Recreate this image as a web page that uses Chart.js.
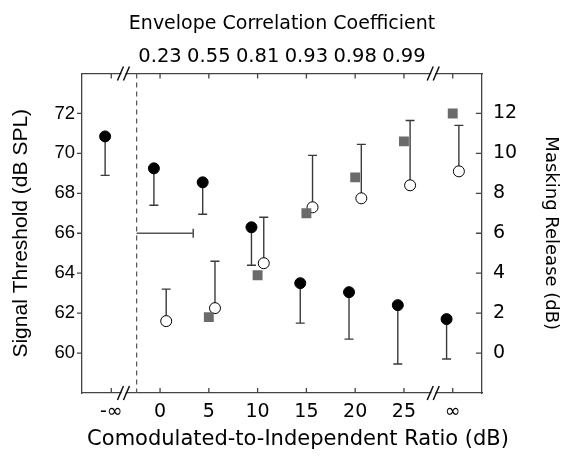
<!DOCTYPE html>
<html>
<head>
<meta charset="utf-8">
<script src="https://cdn.jsdelivr.net/npm/chart.js@4"></script>
<style>
  body { margin: 0; background: #fff; }
  #wrap { width: 561px; height: 457px; }
</style>
</head>
<body>
<div id="wrap"><canvas id="chart"></canvas></div>
<script>
// x positions (dB); -inf and inf are drawn at -5 and 30
const xTicks = [-5, 0, 5, 10, 15, 20, 25, 30];
const xLabels = ['-∞', '0', '5', '10', '15', '20', '25', '∞'];
const corrLabels = ['', '0.23', '0.55', '0.81', '0.93', '0.98', '0.99', ''];

// signal threshold (dB SPL), black dots, bars go down
const thresholdPos = [-5, 0, 5, 10, 15, 20, 25, 30];
const threshold = [70.85, 69.25, 68.55, 66.3, 63.5, 63.05, 62.4, 61.7];
const thresholdLow = [68.9, 67.4, 66.95, 64.4, 61.5, 60.7, 59.45, 59.7];

// masking release (dB), open dots, bars go up
const releasePos = [0, 5, 10, 15, 20, 25, 30];
const release = [1.6, 2.25, 4.5, 7.3, 7.75, 8.4, 9.1];
const releaseHigh = [3.2, 4.6, 6.8, 9.9, 10.45, 11.65, 11.4];

// grey squares
const squarePos = [5, 10, 15, 20, 25, 30];
const squares = [1.8, 3.9, 7.0, 8.8, 10.6, 12.0];

// reference bar at 66 dB SPL, and the dashed line
const refLevel = 66;
const refSpan = [-2.4, 3.4];
const dashX = -2.4;
const breakX = [-3.75, 28];

const xTitle = 'Comodulated-to-Independent Ratio (dB)';

const shift = 0.63;   // dots sit either side of their tick
const axisColor = '#444';

const extras = {
  id: 'extras',
  beforeDatasetsDraw(chart) {
    const { ctx, chartArea: a, scales: { x, y, y2 } } = chart;
    ctx.save();
    // dashed line
    ctx.strokeStyle = '#555';
    ctx.lineWidth = 1.2;
    ctx.setLineDash([5, 4]);
    const dx = x.getPixelForValue(dashX);
    ctx.beginPath();
    ctx.moveTo(dx, a.top);
    ctx.lineTo(dx, a.bottom);
    ctx.stroke();
    ctx.setLineDash([]);

    // error bars
    ctx.strokeStyle = '#3a3a3a';
    ctx.lineWidth = 1.4;
    const bar = (xv, v0, v1, sc) => {
      const px = x.getPixelForValue(xv);
      const p0 = sc.getPixelForValue(v0), p1 = sc.getPixelForValue(v1);
      ctx.beginPath();
      ctx.moveTo(px, p0); ctx.lineTo(px, p1);
      ctx.moveTo(px - 4.5, p1); ctx.lineTo(px + 4.5, p1);
      ctx.stroke();
    };
    thresholdPos.forEach((r, i) => bar(r - shift, threshold[i], thresholdLow[i], y));
    releasePos.forEach((r, i) => bar(r + shift, release[i], releaseHigh[i], y2));

    // horizontal reference bar
    ctx.strokeStyle = '#555';
    ctx.lineWidth = 1.6;
    const ry = y.getPixelForValue(refLevel);
    const r0 = x.getPixelForValue(refSpan[0]), r1 = x.getPixelForValue(refSpan[1]);
    ctx.beginPath();
    ctx.moveTo(r0, ry); ctx.lineTo(r1, ry);
    ctx.moveTo(r1, ry - 4.5); ctx.lineTo(r1, ry + 4.5);
    ctx.stroke();

    // tick marks
    ctx.strokeStyle = axisColor;
    ctx.lineWidth = 1.3;
    ctx.beginPath();
    x.ticks.forEach(t => {
      const px = x.getPixelForValue(t.value);
      ctx.moveTo(px, a.bottom); ctx.lineTo(px, a.bottom - 5);
      ctx.moveTo(px, a.top); ctx.lineTo(px, a.top + 5);
    });
    y.ticks.forEach(t => {
      const py = y.getPixelForValue(t.value);
      ctx.moveTo(a.left, py); ctx.lineTo(a.left - 5, py);
    });
    y2.ticks.forEach(t => {
      const py = y2.getPixelForValue(t.value);
      ctx.moveTo(a.right, py); ctx.lineTo(a.right - 6, py);
    });
    ctx.stroke();
    ctx.restore();
  },
  afterDraw(chart) {
    const { ctx, chartArea: a, scales: { x } } = chart;
    ctx.save();
    breakX.forEach(v => {
      const px = x.getPixelForValue(v);
      [a.top, a.bottom].forEach(py => {
        ctx.fillStyle = '#fff';
        ctx.beginPath();
        ctx.moveTo(px - 5, py + 7); ctx.lineTo(px - 1, py + 7);
        ctx.lineTo(px + 5, py - 7); ctx.lineTo(px + 1, py - 7);
        ctx.closePath();
        ctx.fill();
        ctx.strokeStyle = '#111';
        ctx.lineWidth = 1.5;
        ctx.beginPath();
        ctx.moveTo(px - 6, py + 7); ctx.lineTo(px, py - 7);
        ctx.moveTo(px, py + 7); ctx.lineTo(px + 6, py - 7);
        ctx.stroke();
      });
    });
    // bottom title sits a little right of the plot centre
    ctx.fillStyle = '#000';
    ctx.font = '21px "DejaVu Sans"';
    ctx.textAlign = 'center';
    ctx.textBaseline = 'middle';
    ctx.fillText(xTitle, 298, 440);
    ctx.restore();
  }
};

const dejavu = (size) => ({ family: 'DejaVu Sans', size: size });
const liberation = (size) => ({ family: 'Liberation Sans', size: size });

new Chart(document.getElementById('chart'), {
  type: 'scatter',
  data: {
    datasets: [{
      data: thresholdPos.map((r, i) => ({ x: r - shift, y: threshold[i] })),
      yAxisID: 'y',
      pointStyle: 'circle',
      pointRadius: 5.5,
      backgroundColor: '#000',
      borderColor: '#000',
      borderWidth: 1
    }, {
      data: squarePos.map((r, i) => ({ x: r, y: squares[i] })),
      yAxisID: 'y2',
      pointStyle: 'rect',
      pointRadius: 7,
      backgroundColor: '#6b6b6b',
      borderColor: '#6b6b6b',
      borderWidth: 0
    }, {
      data: releasePos.map((r, i) => ({ x: r + shift, y: release[i] })),
      yAxisID: 'y2',
      pointStyle: 'circle',
      pointRadius: 5.5,
      backgroundColor: '#fff',
      borderColor: '#000',
      borderWidth: 1
    }]
  },
  options: {
    responsive: true,
    maintainAspectRatio: false,
    animation: false,
    layout: { padding: 0 },
    scales: {
      x: {
        type: 'linear',
        position: 'bottom',
        min: -8,
        max: 33,
        afterBuildTicks: s => { s.ticks = xTicks.map(v => ({ value: v })); },
        afterFit: s => { s.height = 64; },
        grid: { display: false, drawTicks: false },
        border: { display: true, color: axisColor, width: 1.3 },
        ticks: {
          autoSkip: false, maxRotation: 0, minRotation: 0, padding: 8,
          color: '#000', font: dejavu(19),
          callback: v => xLabels[xTicks.indexOf(v)]
        },
        title: { display: false }
      },
      x2: {
        type: 'linear',
        position: 'top',
        min: -8,
        max: 33,
        afterBuildTicks: s => { s.ticks = xTicks.map(v => ({ value: v })); },
        afterFit: s => { s.height = 73.5; },
        grid: { display: false, drawTicks: false },
        border: { display: true, color: axisColor, width: 1.3 },
        ticks: {
          autoSkip: false, maxRotation: 0, minRotation: 0, padding: 5,
          color: '#000', font: dejavu(19.5),
          callback: v => corrLabels[xTicks.indexOf(v)]
        },
        title: {
          display: true, text: 'Envelope Correlation Coefficient',
          color: '#000', font: dejavu(19), padding: { top: 13, bottom: 0 }
        }
      },
      y: {
        type: 'linear',
        position: 'left',
        min: 58,
        max: 74,
        afterBuildTicks: s => { s.ticks = [60, 62, 64, 66, 68, 70, 72].map(v => ({ value: v })); },
        afterFit: s => { s.width = 82; },
        grid: { display: false, drawTicks: false },
        border: { display: true, color: axisColor, width: 1.3 },
        ticks: { padding: 7, color: '#000', font: liberation(18.5) },
        title: {
          display: true, text: 'Signal Threshold (dB SPL)',
          color: '#000', font: liberation(21), padding: { top: 9, bottom: 0 }
        }
      },
      y2: {
        type: 'linear',
        position: 'right',
        min: -2,
        max: 14,
        afterBuildTicks: s => { s.ticks = [0, 2, 4, 6, 8, 10, 12].map(v => ({ value: v })); },
        afterFit: s => { s.width = 79; },
        grid: { display: false, drawTicks: false },
        border: { display: true, color: axisColor, width: 1.3 },
        ticks: { padding: 11, color: '#000', font: dejavu(19) },
        title: {
          display: true, text: 'Masking Release (dB)',
          color: '#000', font: dejavu(18), padding: { top: 0, bottom: 0 }
        }
      }
    },
    plugins: {
      legend: { display: false },
      tooltip: { enabled: false }
    }
  },
  plugins: [extras]
});
</script>
</body>
</html>
